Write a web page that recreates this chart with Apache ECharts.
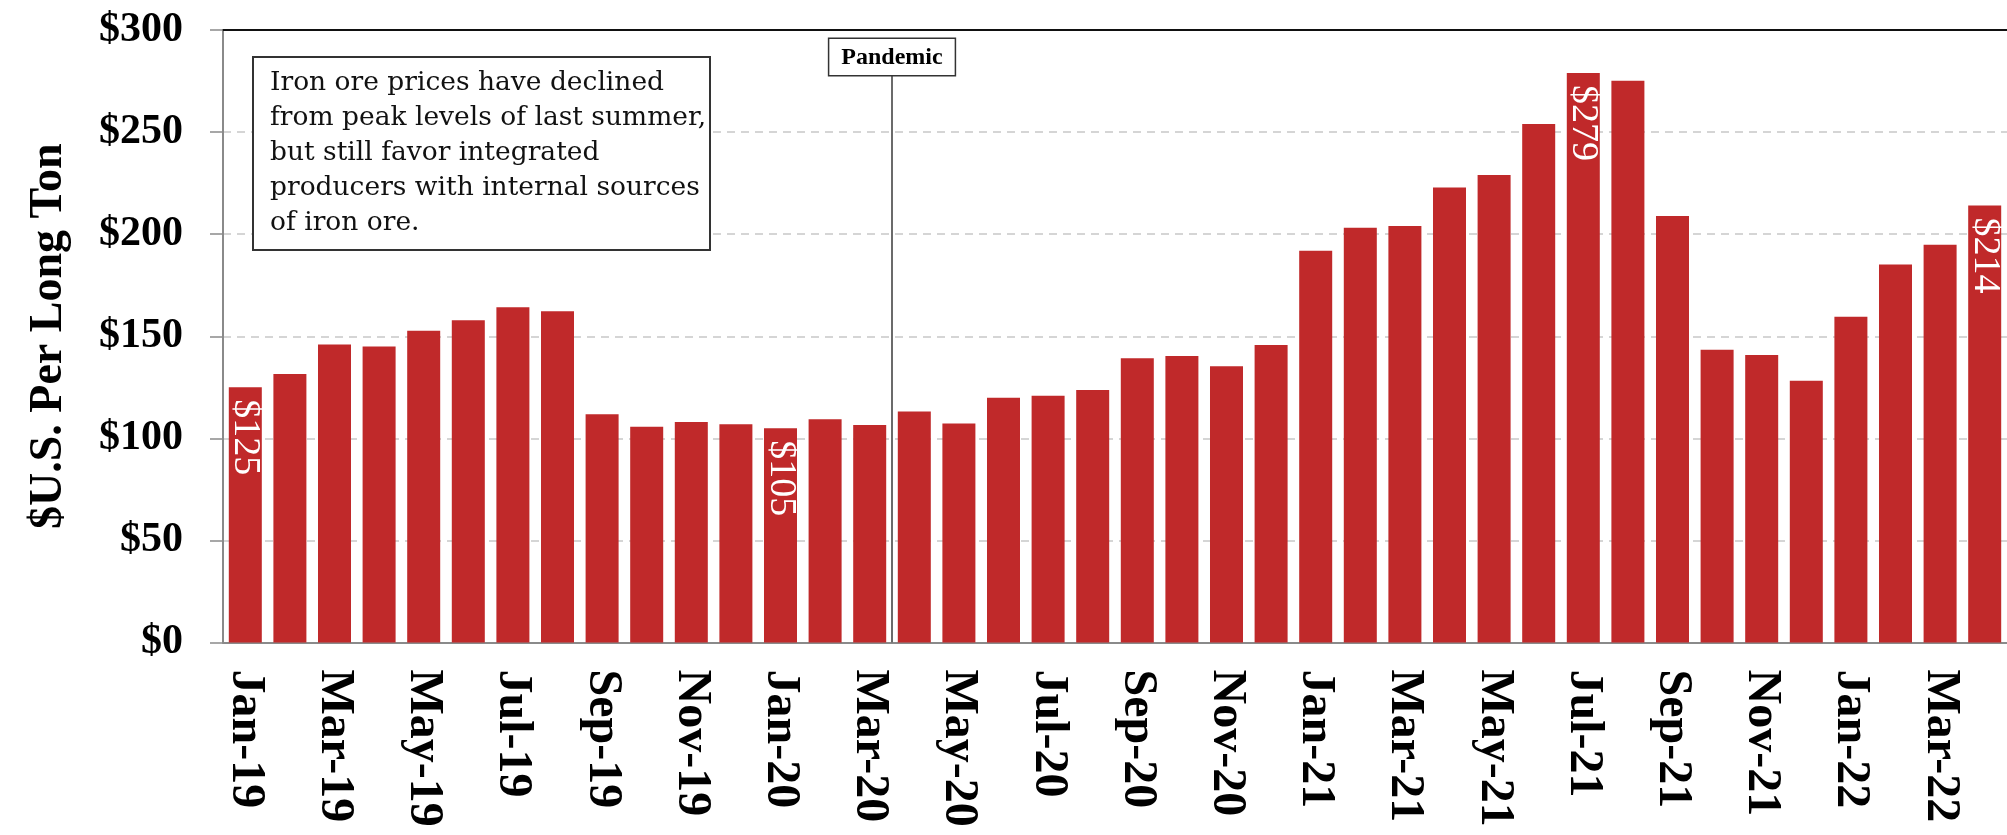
<!DOCTYPE html>
<html>
<head>
<meta charset="utf-8">
<script src="https://cdn.jsdelivr.net/npm/echarts@6/dist/echarts.min.js"></script>
<style>
html, body { margin: 0; padding: 0; background: #fff; }
#main { width: 2007px; height: 835px; }
</style>
</head>
<body>
<div id="main"></div>
<script>
// months on the x axis
var months = [
    'Jan-19', 'Feb-19', 'Mar-19', 'Apr-19', 'May-19', 'Jun-19', 'Jul-19', 'Aug-19', 'Sep-19', 'Oct-19', 'Nov-19', 'Dec-19',
    'Jan-20', 'Feb-20', 'Mar-20', 'Apr-20', 'May-20', 'Jun-20', 'Jul-20', 'Aug-20', 'Sep-20', 'Oct-20', 'Nov-20', 'Dec-20',
    'Jan-21', 'Feb-21', 'Mar-21', 'Apr-21', 'May-21', 'Jun-21', 'Jul-21', 'Aug-21', 'Sep-21', 'Oct-21', 'Nov-21', 'Dec-21',
    'Jan-22', 'Feb-22', 'Mar-22', 'Apr-22'
];
// iron ore price, $ per long ton
var prices = [
    125, 131.5, 146, 145, 152.7, 157.8, 164.2, 162.2, 111.8, 105.7, 108, 106.9,
    105, 109.3, 106.5, 113.1, 107.3, 119.9, 120.9, 123.7, 139.2, 140.3, 135.3, 145.7,
    191.9, 203.2, 204, 222.9, 229, 254, 279, 275.2, 208.9, 143.4, 140.8, 128.2,
    159.5, 185.2, 194.8, 214
];
var labelledMonths = ['Jan-19', 'Jan-20', 'Jul-21', 'Apr-22'];
var yMin = 0, yMax = 300, yStep = 50;
// pandemic marker sits on the boundary before Apr-20 (index 15)
var pandemicAt = 15;
var pandemicTop = 278;
var noteLines = [
    'Iron ore prices have declined',
    'from peak levels of last summer,',
    'but still favor integrated',
    'producers with internal sources',
    'of iron ore.'
];

var serif = 'Liberation Serif';
var myChart = echarts.init(document.getElementById('main'));

var option = {
    animation: false,
    backgroundColor: '#fff',
    title: {
        text: noteLines.join('\n'),
        left: 253,
        top: 57,
        padding: [9, 4, 9, 17],
        borderColor: '#333',
        borderWidth: 2,
        backgroundColor: '#fff',
        textStyle: {
            fontFamily: 'DejaVu Serif',
            fontWeight: 'normal',
            fontSize: 26.5,
            lineHeight: 35,
            color: '#111'
        }
    },
    grid: { left: 223, top: 30, width: 1789, height: 612.5 },
    xAxis: [{
        type: 'category',
        data: months,
        axisLine: { lineStyle: { color: '#8a8a8a', width: 2 } },
        axisTick: { interval: 1, length: 14, lineStyle: { color: '#8a8a8a', width: 1.5 } },
        axisLabel: {
            interval: 1,
            rotate: -90,
            margin: 27,
            fontFamily: serif,
            fontWeight: 'bold',
            fontSize: 48,
            color: '#000'
        }
    }, {
        // only used for the top border and the pandemic marker
        type: 'value',
        min: 0,
        max: months.length,
        position: 'top',
        axisLine: { show: true, onZero: false, lineStyle: { color: '#111', width: 2 } },
        axisTick: { show: false },
        axisLabel: { show: false },
        splitLine: { show: false }
    }],
    yAxis: {
        type: 'value',
        min: yMin,
        max: yMax,
        interval: yStep,
        name: '$U.S. Per Long Ton',
        nameLocation: 'middle',
        nameGap: 151,
        nameTextStyle: { fontFamily: serif, fontWeight: 'bold', fontSize: 46, color: '#000' },
        axisLine: { show: true, lineStyle: { color: '#8a8a8a', width: 2 } },
        axisTick: { show: true, length: 13, lineStyle: { color: '#8a8a8a', width: 1.5 } },
        axisLabel: {
            margin: 40,
            formatter: '${value}',
            fontFamily: serif,
            fontWeight: 'bold',
            fontSize: 42,
            color: '#000'
        },
        splitLine: { lineStyle: { color: '#c8c8c8', type: [8, 6], width: 1.5 } }
    },
    series: [{
        type: 'bar',
        barWidth: '74%',
        itemStyle: { color: '#c0292a' },
        label: {
            show: false,
            position: 'insideTop',
            rotate: -90,
            align: 'left',
            verticalAlign: 'middle',
            distance: 12,
            color: '#fff',
            fontFamily: serif,
            fontSize: 38,
            formatter: function (p) { return '$' + Math.round(p.value); }
        },
        data: prices.map(function (v, i) {
            return { value: v, label: { show: labelledMonths.indexOf(months[i]) >= 0 } };
        })
    }, {
        type: 'scatter',
        xAxisIndex: 1,
        data: [],
        markLine: {
            silent: true,
            symbol: ['none', 'none'],
            lineStyle: { color: '#6b6b6b', width: 2, type: 'solid' },
            label: {
                show: true,
                position: 'end',
                distance: 0,
                formatter: 'Pandemic',
                fontFamily: serif,
                fontWeight: 'bold',
                fontSize: 24,
                color: '#000',
                backgroundColor: '#fff',
                borderColor: '#333',
                borderWidth: 1.5,
                padding: [7, 12, 5, 12]
            },
            data: [[{ coord: [pandemicAt, yMin] }, { coord: [pandemicAt, pandemicTop] }]]
        }
    }]
};

myChart.setOption(option);
</script>
</body>
</html>
